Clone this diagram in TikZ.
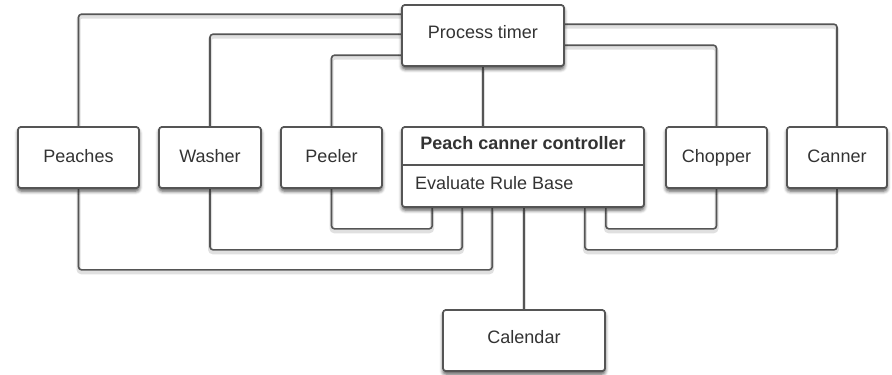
\documentclass[tikz,border=0pt]{standalone}
\usepackage{fontspec}
\setmainfont{Liberation Sans}
\usetikzlibrary{shadows.blur}
\definecolor{edge}{HTML}{555555}
\definecolor{ink}{HTML}{333333}
\begin{document}
\begin{tikzpicture}[x=1pt,y=-1pt,
  box/.style={draw=edge, line width=1.6pt, fill=white, rounded corners=3pt,
    inner sep=0pt, minimum height=61pt, text=ink,
    font=\fontsize{18}{21}\selectfont, text height=13pt, text depth=4pt,
    blur shadow={shadow xshift=0pt, shadow yshift=-3pt, shadow blur radius=3.5pt, shadow opacity=40}},
  label/.style={text=ink, inner sep=0pt, font=\fontsize{18}{21}\selectfont,
    text height=13pt, text depth=4pt},
  wire/.style={draw=edge, line width=1.6pt, rounded corners=3pt,
    preaction={draw=black, opacity=0.12, line width=4pt, transform canvas={yshift=-2.5pt}}}]
\useasboundingbox (0,0) rectangle (892,375);

% boxes (placed first to give anchors)
\node[box, minimum width=121pt] (peaches) at (78.5,157.5) {Peaches};
\node[box, minimum width=102pt] (washer)  at (210,157.5) {Washer};
\node[box, minimum width=101pt] (peeler)  at (331.5,157.5) {Peeler};
\node[box, minimum width=162pt] (timer)   at (483,35.5) {};
\node[box, minimum width=242pt, minimum height=80pt] (ctrl) at (523,167) {};
\node[box, minimum width=101pt] (chopper) at (716.5,157.5) {Chopper};
\node[box, minimum width=100pt] (canner)  at (837,157.5) {Canner};
\node[box, minimum width=162pt] (calendar) at (524,340.5) {};

% wires from the process timer
\draw[wire] (peaches.north) |- ([yshift=-10pt]timer.north west);
\draw[wire] (washer.north)  |- ([yshift=-30pt]timer.north west);
\draw[wire] (peeler.north)  |- ([yshift=-51pt]timer.north west);
\draw[wire] (canner.north)  |- ([yshift=-20pt]timer.north east);
\draw[wire] (chopper.north) |- ([yshift=-41pt]timer.north east);
\draw[wire] (timer.south) -- (timer.south |- ctrl.north);

% wires into the controller from below
\draw[wire] (peeler.south)  |- ([xshift=31pt,yshift=-21pt]ctrl.south west) -- ([xshift=31pt]ctrl.south west);
\draw[wire] (washer.south)  |- ([xshift=61pt,yshift=-42pt]ctrl.south west) -- ([xshift=61pt]ctrl.south west);
\draw[wire] (peaches.south) |- ([xshift=91pt,yshift=-62pt]ctrl.south west) -- ([xshift=91pt]ctrl.south west);
\draw[wire] (chopper.south) |- ([xshift=-39pt,yshift=-21pt]ctrl.south east) -- ([xshift=-39pt]ctrl.south east);
\draw[wire] (canner.south)  |- ([xshift=-60pt,yshift=-42pt]ctrl.south east) -- ([xshift=-60pt]ctrl.south east);
\draw[wire] (calendar.north |- ctrl.south) -- (calendar.north);

% redraw boxes over wire ends
\node[box, minimum width=121pt] at (peaches) {Peaches};
\node[box, minimum width=102pt] at (washer) {Washer};
\node[box, minimum width=101pt] at (peeler) {Peeler};
\node[box, minimum width=162pt] at (timer) {};
\node[label] (timertext) at (483,33.5) {Process timer};
\node[box, minimum width=242pt, minimum height=80pt] at (ctrl) {};
\draw[edge, line width=1.6pt] ([yshift=-39pt]ctrl.north west) -- ([yshift=-39pt]ctrl.north east);
\node[label, font=\fontsize{18}{21}\selectfont\bfseries] (ctrltitle) at (523,145) {Peach canner controller};
\node[label, anchor=west] (ctrlop) at (415,185) {Evaluate Rule Base};
\node[box, minimum width=101pt] at (chopper) {Chopper};
\node[box, minimum width=100pt] at (canner) {Canner};
\node[box, minimum width=162pt] at (calendar) {};
\node[label] (caltext) at (524,339) {Calendar};
\end{tikzpicture}
\end{document}
